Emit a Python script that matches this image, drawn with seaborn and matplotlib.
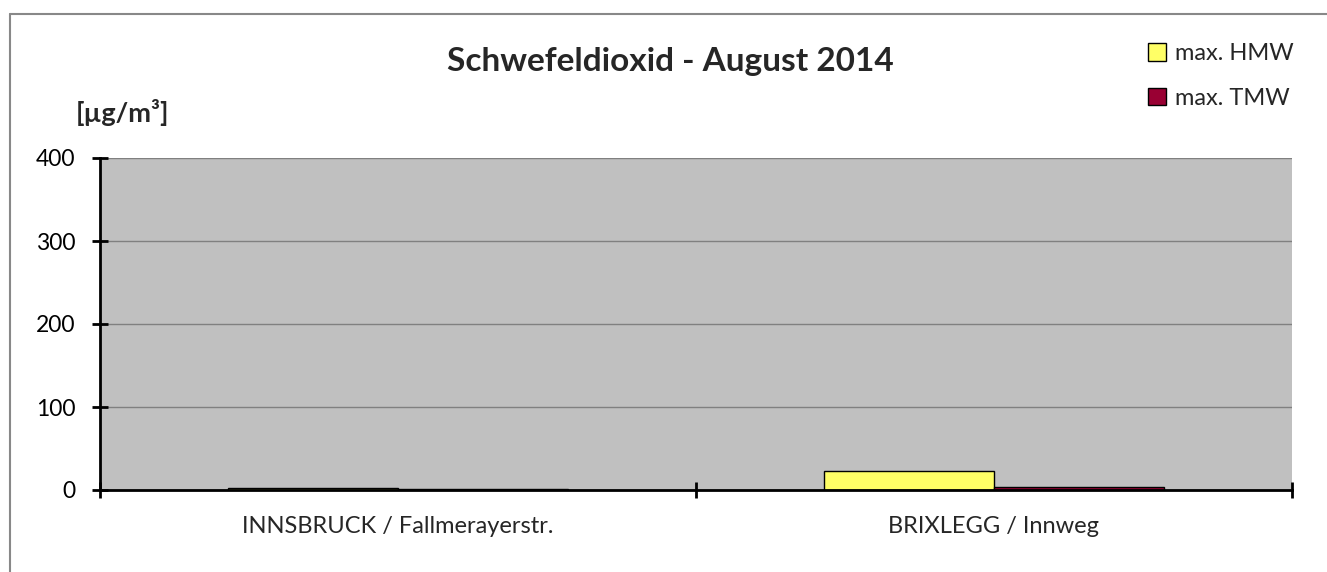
import numpy as np
import pandas as pd
import matplotlib
matplotlib.use("Agg")
import matplotlib.pyplot as plt
from matplotlib.lines import Line2D
from matplotlib.ticker import FixedLocator
import seaborn as sns

stations = ["INNSBRUCK / Fallmerayerstr.", "BRIXLEGG / Innweg"]
series = ["max. HMW", "max. TMW"]
hmw = [2, 23]
tmw = [1.5, 3.5]
yticks = [0, 100, 200, 300, 400]
colors = ["#FFFF66", "#990033"]

df = pd.DataFrame({
    "station": stations * 2,
    "serie": [series[0]] * 2 + [series[1]] * 2,
    "value": hmw + tmw,
})

sns.set_style("white")
plt.rcParams["font.family"] = ["Lato", "DejaVu Sans"]

W, H = 1327, 572
fig = plt.figure(figsize=(W / 100, H / 100), dpi=100)
ax = fig.add_axes([100 / W, 1 - 490 / H, (1292 - 100) / W, (490 - 158) / H])

sns.barplot(data=df, x="station", y="value", hue="serie", order=stations,
            hue_order=series, palette=colors, saturation=1, width=0.57, gap=0,
            edgecolor="black", linewidth=1, ax=ax, legend=True, zorder=3)

ax.set_facecolor("#C0C0C0")
ax.set_xlim(-0.5, 1.5)
ax.set_ylim(0, 400)
ax.set_yticks(yticks)
ax.set_yticklabels([str(v) for v in yticks], fontsize=16.5)
ax.yaxis.grid(True, color="#808080", linewidth=1, zorder=0)
ax.set_axisbelow(True)
ax.set_xlabel("")
ax.set_ylabel("")
for s in ["top", "right"]:
    ax.spines[s].set_visible(False)
for s in ["left", "bottom"]:
    ax.spines[s].set_linewidth(2)
    ax.spines[s].set_color("black")
    ax.spines[s].set_zorder(5)

ax.tick_params(axis="y", left=True, direction="inout", length=11, width=2, pad=12, colors="black")
ax.tick_params(axis="x", which="major", bottom=True, length=0, pad=19, labelsize=17)
ax.xaxis.set_minor_locator(FixedLocator([-0.5, 0.5, 1.5]))
ax.tick_params(axis="x", which="minor", bottom=True, direction="inout", length=11, width=2, color="black")

fig.text(670 / W, 1 - 61 / H, "Schwefeldioxid - August 2014", ha="center", va="center",
         fontsize=24, fontweight="bold")
fig.text(76 / W, 1 - 113 / H, "[µg/m³]", ha="left", va="center",
         fontsize=19.5, fontweight="bold")

sns.move_legend(ax, loc="upper left", bbox_to_anchor=(1127 / W, 1 - 22 / H),
                bbox_transform=fig.transFigure, frameon=False, title=None,
                fontsize=17, handlelength=0.75, handleheight=0.75,
                handletextpad=0.4, labelspacing=1.0)

# outer chart border (top and left visible)
fig.add_artist(Line2D([10 / W, 1.0], [1 - 14 / H, 1 - 14 / H], color="#888888", linewidth=1.5))
fig.add_artist(Line2D([10 / W, 10 / W], [0.0, 1 - 14 / H], color="#888888", linewidth=1.5))

fig.savefig("out.png", dpi=100)
